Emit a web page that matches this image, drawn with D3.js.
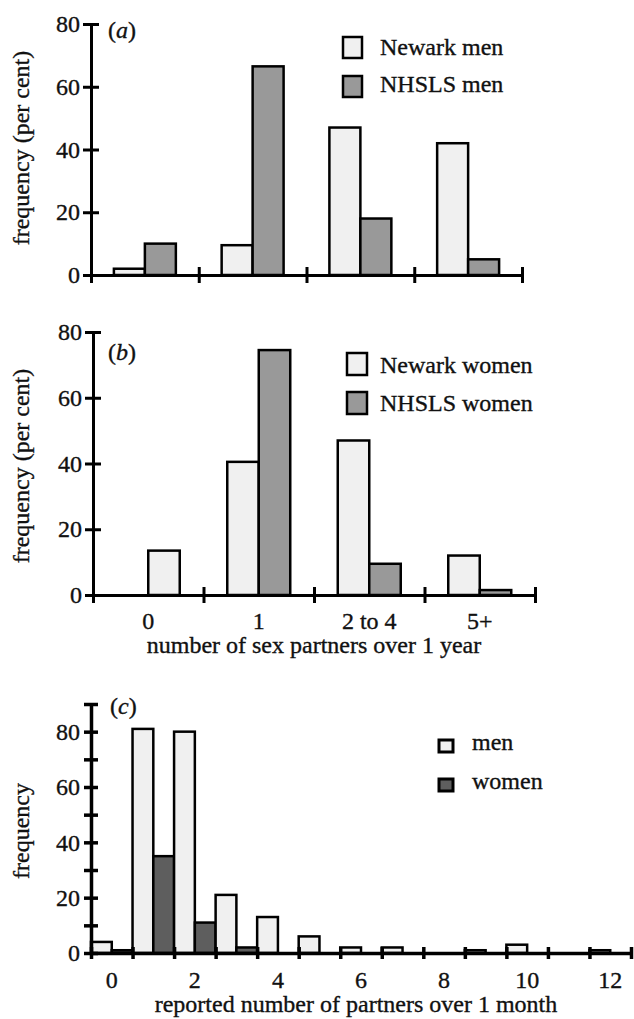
<!DOCTYPE html>
<html>
<head>
<meta charset="utf-8">
<script src="https://cdn.jsdelivr.net/npm/d3@7"></script>
<style>
  body { margin: 0; background: #fff; }
  svg { display: block; }
  text { font-family: "Liberation Serif", "Times New Roman", serif; fill: #111; }
  .ax path.domain, .ax .tick line { stroke: #000; }
</style>
</head>
<body>
<svg id="chart" width="634" height="1019"></svg>
<script>
// ---- data ----
const yearCats = ["0", "1", "2 to 4", "5+"];
const newarkMen = [2, 9.5, 47, 42];
const nhslsMen = [10, 66.5, 18, 5];
const newarkWomen = [13.5, 40.5, 47, 12];
const nhslsWomen = [0, 74.5, 9.5, 1.5];
const pctTicks = [0, 20, 40, 60, 80];

const monthCats = [0, 1, 2, 3, 4, 5, 6, 7, 8, 9, 10, 11, 12];
const menMonth = [4, 81, 80, 21, 13, 6, 2, 2, 0, 1, 3, 0, 1];
const womenMonth = [1, 35, 11, 2, 0, 0, 0, 0, 0, 0, 0, 0, 0];
const monthLabelTicks = [0, 2, 4, 6, 8, 10, 12];
const freqTicks = [0, 10, 20, 30, 40, 50, 60, 70, 80, 90];
const freqLabelTicks = [0, 20, 40, 60, 80];

// ---- styling ----
const FILL_LIGHT = "#f0f0f0";
const FILL_MID = "#999999";
const FILL_DARK = "#5e5e5e";
const FONT = 24;

const svg = d3.select("#chart");

function styleText(sel) {
  sel.style("font-size", FONT + "px")
    .style("font-family", '"Liberation Serif", "Times New Roman", serif')
    .attr("fill", "#111")
    .attr("stroke", "#111").attr("stroke-width", 0.35);
}

// thick axis lines with ticks crossing the axis on both sides
function styleAxis(axisG, width, tickLen, horizontal) {
  axisG.attr("class", "ax");
  axisG.selectAll("path.domain").attr("stroke-width", width);
  axisG.selectAll(".tick line").attr("stroke-width", width)
    .attr(horizontal ? "y1" : "x1", horizontal ? -tickLen : tickLen);
  styleText(axisG.selectAll(".tick text"));
}

function panelTag(x, y, letter) {
  const t = svg.append("text").attr("x", x).attr("y", y);
  styleText(t);
  t.append("tspan").text("(");
  t.append("tspan").style("font-style", "italic").text(letter);
  t.append("tspan").text(")");
}

function yTitle(x, y, label) {
  const t = svg.append("text")
    .attr("transform", `translate(${x},${y}) rotate(-90)`)
    .attr("text-anchor", "middle")
    .text(label);
  styleText(t);
}

function legend(items, x, textX, ys, boxW, boxH, strokeW, baselines) {
  items.forEach((it, i) => {
    svg.append("rect")
      .attr("x", x).attr("y", ys[i]).attr("width", boxW).attr("height", boxH)
      .attr("fill", it.fill).attr("stroke", "#000").attr("stroke-width", strokeW);
    const t = svg.append("text").attr("x", textX).attr("y", baselines[i]).text(it.label);
    styleText(t);
  });
}

// ---- partners over one year (panels a, b) ----
function yearPanel(opt) {
  const y = d3.scaleLinear().domain([0, 80]).range([opt.yZero, opt.yTop]);
  const p = opt.pad;
  const xb = d3.scaleBand().domain(yearCats).range([opt.x0, opt.x1])
    .paddingInner(p).paddingOuter(p / 2);
  const slot = d3.scaleBand().domain([0, 1]).range([0, xb.bandwidth()]);
  const pg = svg.append("g");

  const bars = [];
  yearCats.forEach((c, i) => {
    const a = opt.seriesA[i], b = opt.seriesB[i];
    if (a > 0) bars.push({ c, v: a, s: (opt.loneRight && !(b > 0)) ? 1 : 0, fill: FILL_LIGHT });
    if (b > 0) bars.push({ c, v: b, s: 1, fill: FILL_MID });
  });
  pg.selectAll("rect.bar").data(bars).join("rect")
    .attr("class", "bar")
    .attr("x", d => xb(d.c) + slot(d.s))
    .attr("width", slot.bandwidth())
    .attr("y", d => y(d.v))
    .attr("height", d => y(0) - y(d.v))
    .attr("fill", d => d.fill)
    .attr("stroke", "#000").attr("stroke-width", 2.5);

  // vertical axis
  const ya = pg.append("g").attr("transform", `translate(${opt.x0},0)`)
    .call(d3.axisLeft(y).tickValues(pctTicks).tickSize(8).tickSizeOuter(0).tickPadding(3));
  styleAxis(ya, 3, 8, false);

  // category boundary ticks
  const xl = d3.scaleLinear().domain([0, yearCats.length]).range([opt.x0, opt.x1]);
  const xa = pg.append("g").attr("transform", `translate(0,${opt.yZero})`)
    .call(d3.axisBottom(xl).ticks(yearCats.length).tickSize(8).tickSizeOuter(0).tickFormat(""));
  styleAxis(xa, 3, 8, true);

  if (opt.showLabels) {
    const la = pg.append("g").attr("transform", `translate(0,${opt.yZero})`)
      .call(d3.axisBottom(xb).tickSize(0).tickPadding(17));
    la.select("path.domain").remove();
    la.selectAll(".tick line").remove();
    styleText(la.selectAll(".tick text"));
  }

  panelTag(opt.tagX, opt.tagY, opt.tag);
  yTitle(29, opt.titleY, "frequency (per cent)");
  legend(opt.legendItems, opt.legX, 380, opt.legYs, opt.legW, opt.legH, 2.5, opt.legBase);
}

yearPanel({
  x0: 91, x1: 522, yZero: 275, yTop: 24, pad: 0.425,
  seriesA: newarkMen, seriesB: nhslsMen, showLabels: false, loneRight: false,
  tag: "a", tagX: 108, tagY: 38, titleY: 148,
  legendItems: [{ label: "Newark men", fill: FILL_LIGHT }, { label: "NHSLS men", fill: FILL_MID }],
  legX: 343, legYs: [37, 76], legW: 19, legH: 21, legBase: [55, 92]
});

yearPanel({
  x0: 93, x1: 535, yZero: 595, yTop: 332, pad: 0.43,
  seriesA: newarkWomen, seriesB: nhslsWomen, showLabels: true, loneRight: true,
  tag: "b", tagX: 108, tagY: 360, titleY: 466,
  legendItems: [{ label: "Newark women", fill: FILL_LIGHT }, { label: "NHSLS women", fill: FILL_MID }],
  legX: 347, legYs: [353, 392], legW: 20, legH: 22, legBase: [373, 411]
});

styleText(svg.append("text").attr("x", 314).attr("y", 653).attr("text-anchor", "middle")
  .text("number of sex partners over 1 year"));

// ---- partners over one month (panel c) ----
(function () {
  const x0 = 91, x1 = 631, yZero = 953, yTop = 704;
  const y = d3.scaleLinear().domain([0, 90]).range([yZero, yTop]);
  const xb = d3.scaleBand().domain(monthCats).range([x0, x1]).padding(0);
  const slot = d3.scaleBand().domain([0, 1]).range([0, xb.bandwidth()]);
  const pg = svg.append("g");

  const bars = [];
  monthCats.forEach((c, i) => {
    if (menMonth[i] > 0) bars.push({ c, v: menMonth[i], s: 0, fill: FILL_LIGHT });
    if (womenMonth[i] > 0) bars.push({ c, v: womenMonth[i], s: 1, fill: FILL_DARK });
  });
  pg.selectAll("rect.bar").data(bars).join("rect")
    .attr("class", "bar")
    .attr("x", d => xb(d.c) + slot(d.s))
    .attr("width", slot.bandwidth())
    .attr("y", d => y(d.v))
    .attr("height", d => y(0) - y(d.v))
    .attr("fill", d => d.fill)
    .attr("stroke", "#000").attr("stroke-width", 2.5);

  const ya = pg.append("g").attr("transform", `translate(${x0},0)`)
    .call(d3.axisLeft(y).tickValues(freqTicks).tickSize(7).tickSizeOuter(0).tickPadding(4)
      .tickFormat(d => freqLabelTicks.includes(d) ? d : ""));
  styleAxis(ya, 3.5, 7, false);

  const xl = d3.scaleLinear().domain([0, monthCats.length]).range([x0, x1]);
  const xa = pg.append("g").attr("transform", `translate(0,${yZero})`)
    .call(d3.axisBottom(xl).ticks(monthCats.length).tickSize(6).tickSizeOuter(0).tickFormat(""));
  styleAxis(xa, 3.5, 6, true);

  const la = pg.append("g").attr("transform", `translate(0,${yZero})`)
    .call(d3.axisBottom(xb).tickValues(monthLabelTicks).tickSize(0).tickPadding(18));
  la.select("path.domain").remove();
  la.selectAll(".tick line").remove();
  styleText(la.selectAll(".tick text"));

  panelTag(110, 714, "c");
  yTitle(29, 831, "frequency");
  legend([{ label: "men", fill: FILL_LIGHT }, { label: "women", fill: FILL_DARK }],
    439, 472, [740, 779], 14, 12, 3, [750, 789]);

  styleText(svg.append("text").attr("x", 356).attr("y", 1012).attr("text-anchor", "middle")
    .text("reported number of partners over 1 month"));
})();
</script>
</body>
</html>
